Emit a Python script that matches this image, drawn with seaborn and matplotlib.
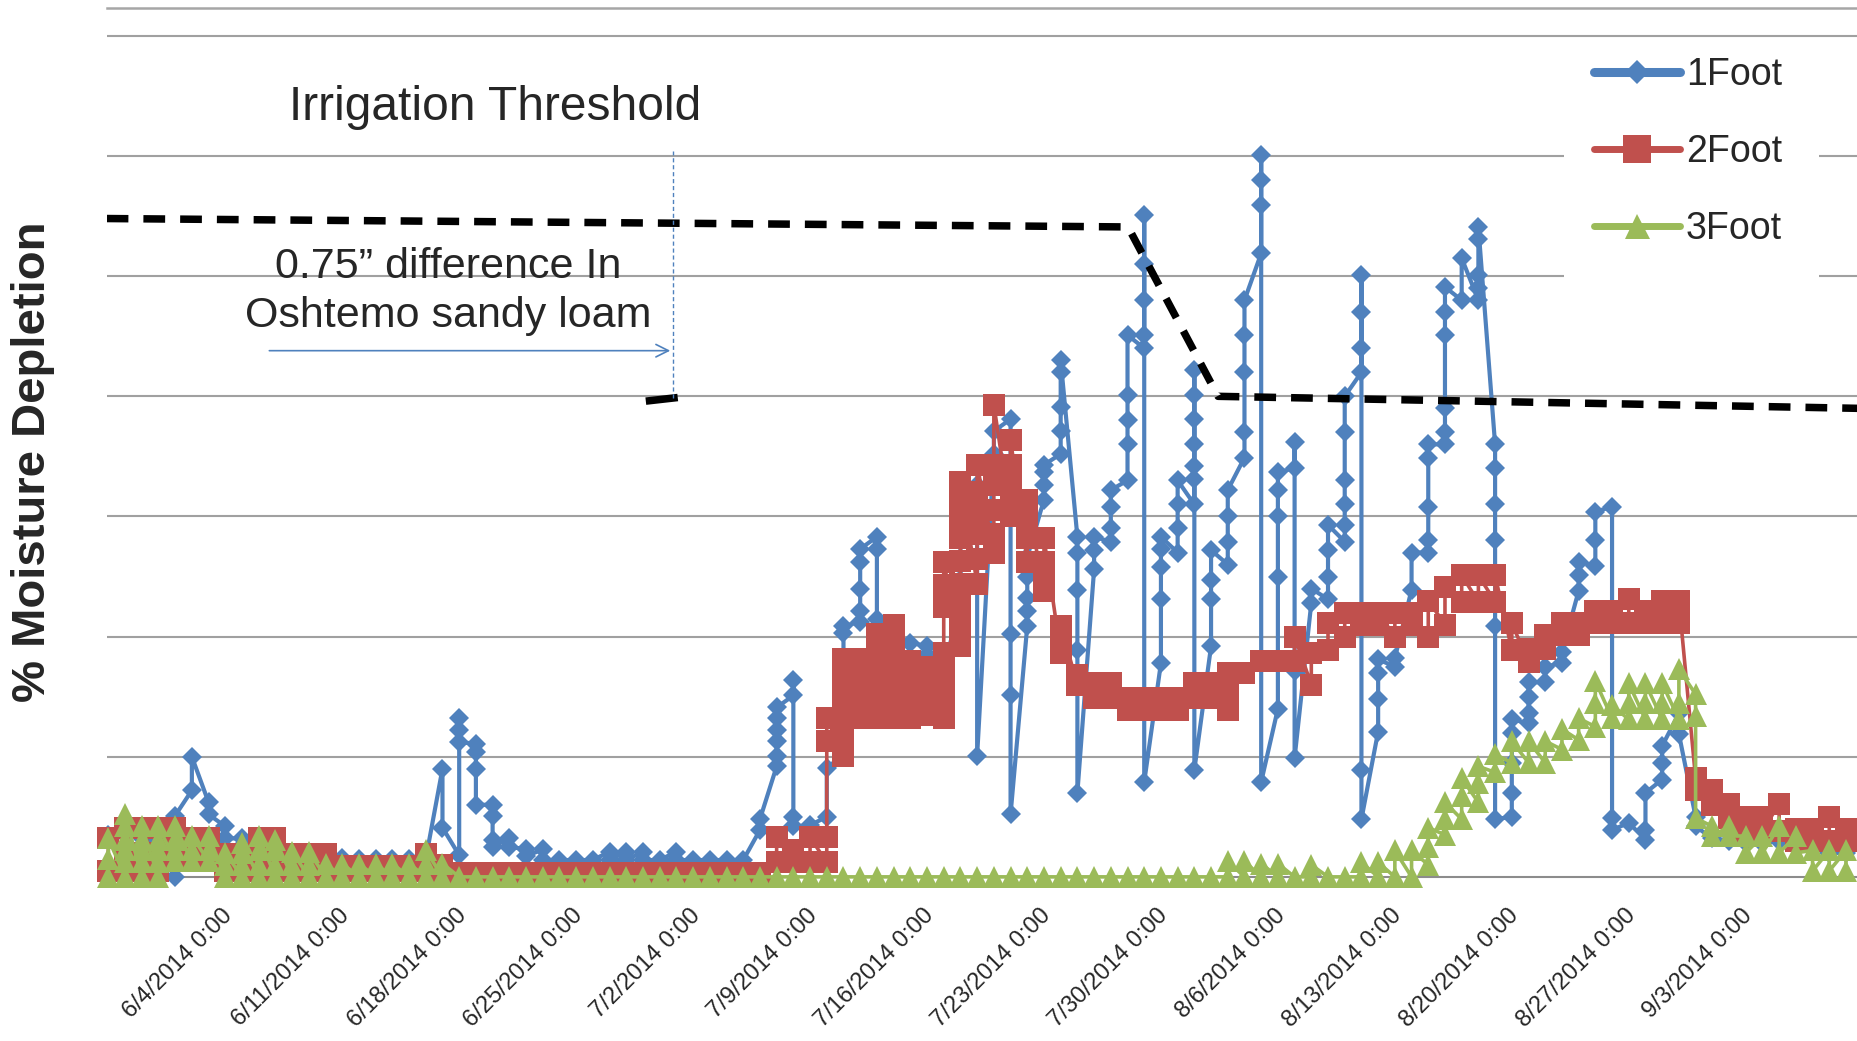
import pandas as pd
import matplotlib
matplotlib.use("Agg")
import matplotlib.pyplot as plt
from matplotlib.lines import Line2D
from matplotlib.patches import Rectangle
from matplotlib.transforms import ScaledTranslation
import seaborn as sns

# ---------------- data ----------------
start_date = "2014-05-28"          # first daily category (5/28/2014)
tick_dates = ["2014-06-04", "2014-06-11", "2014-06-18", "2014-06-25", "2014-07-02",
              "2014-07-09", "2014-07-16", "2014-07-23", "2014-07-30", "2014-08-06",
              "2014-08-13", "2014-08-20", "2014-08-27", "2014-09-03"]
tick_labels = ["6/4/2014 0:00", "6/11/2014 0:00", "6/18/2014 0:00", "6/25/2014 0:00",
               "7/2/2014 0:00", "7/9/2014 0:00", "7/16/2014 0:00", "7/23/2014 0:00",
               "7/30/2014 0:00", "8/6/2014 0:00", "8/13/2014 0:00", "8/20/2014 0:00",
               "8/27/2014 0:00", "9/3/2014 0:00"]
series_names = ["1Foot", "2Foot", "3Foot"]

# readings per day (Excel date axis puts all readings of one day in one column)
foot1 = [
    [3.5], [3.5], [3.2], [3.0], [0.0, 5.1], [7.2, 10.0], [6.2, 5.2], [4.2, 3.2],
    [3.2, 2.6], [2.5], [2.2], [2.0], [2.0], [1.8], [1.6], [1.5], [1.5], [1.5], [1.5], [1.5],
    [9.0, 4.1], [1.8, 13.2, 12.2, 11.2], [11.1, 10.4, 9.0, 6.0], [6.0, 5.1, 3.1, 2.5],
    [3.2, 2.5], [2.3, 1.7], [2.3, 1.4], [1.4], [1.4], [1.4], [2.1, 1.4], [2.1, 1.4],
    [2.1, 1.4], [1.4], [2.1, 1.4], [1.4], [1.4], [1.4], [1.4], [3.9, 4.8],
    [9.2, 10.1, 11.3, 12.2, 13.2, 14.1], [15.1, 16.4, 5.0, 4.2], [4.3], [5.0, 9.1],
    [10.1, 14.2, 16.1, 20.3, 20.9], [21.2, 22.1, 24.0, 26.2, 27.3], [28.3, 27.3, 21.5],
    [20.0, 19.4], [19.5], [19.2, 18.5], [18.5, 17.4], [22.7, 24.7, 28.1, 31.0],
    [31.1, 32.6, 10.1], [35.2, 37.1], [38.1, 20.2, 15.1, 5.2], [20.9, 22.1, 23.2, 25.0, 26.6],
    [31.4, 32.6, 33.7, 34.3], [35.2, 37.1, 39.1, 42.0, 43.0], [28.3, 27.0, 23.9, 18.9, 7.0],
    [25.6, 27.2, 28.3], [27.9, 29.0, 30.8, 32.2], [33.0, 36.0, 38.0, 40.1, 45.1],
    [44.0, 45.1, 48.0, 51.0, 55.1, 7.9], [17.8, 23.1, 25.8, 27.3, 28.3], [27.0, 29.0, 31.0, 33.0],
    [31.0, 33.1, 34.2, 36.0, 38.1, 40.1, 42.2, 8.9], [19.2, 23.1, 24.7, 27.2],
    [26.0, 27.9, 30.0, 32.2], [34.9, 37.0, 42.0, 45.1, 48.0], [51.9, 55.9, 58.0, 60.1, 7.9],
    [14.0, 25.0, 30.0, 32.2, 33.7], [34.0, 36.2, 17.1, 9.9], [22.8, 24.0],
    [23.1, 25.0, 27.2, 29.3], [27.9, 29.3, 31.0, 33.0, 37.0, 40.0],
    [42.0, 44.0, 47.0, 50.1, 8.9, 4.8], [12.1, 14.8, 17.0, 18.1], [17.5, 18.2], [23.9, 27.0],
    [27.0, 28.0, 30.8, 34.9, 36.0], [36.0, 37.0, 39.0, 45.1, 47.0, 49.1], [48.0, 51.5],
    [48.0, 49.0, 50.1, 53.1, 54.1], [36.0, 34.0, 31.0, 28.0, 20.9, 4.8],
    [5.0, 7.0, 9.5, 12.0, 13.1], [12.8, 13.6, 15.0, 16.2], [16.2, 17.5], [17.8, 18.7],
    [23.8, 25.1, 26.2], [25.9, 28.0, 30.4], [30.8, 4.9, 3.9], [4.5], [3.1, 3.9, 7.0],
    [8.1, 9.5, 10.9], [13.6, 11.9], [5.0, 4.2], [3.2], [3.0], [2.8], [2.8], [3.0], [2.6],
    [2.4], [2.0], [2.0],
]
foot2 = [
    [0.5, 3.2], [0.5, 2.0, 4.1], [0.5, 2.0, 4.1], [0.5, 2.0, 4.1], [1.5, 2.5, 4.1],
    [1.5, 3.2], [1.5, 3.2], [0.5, 1.9], [0.5, 1.9], [0.5, 2.0, 3.2], [0.5, 2.0, 3.2],
    [0.5, 1.9], [0.5, 1.9], [0.5, 1.9], [0.5, 0.9], [0.5, 0.9], [0.5, 0.9], [0.5, 0.9],
    [0.5, 0.9], [0.5, 1.9], [0.3, 1.0],
    [0.3], [0.3], [0.3], [0.3], [0.3], [0.3], [0.3], [0.3], [0.3], [0.3],
    [0.3], [0.3], [0.3], [0.3], [0.3], [0.3], [0.3], [0.3], [0.3],
    [1.2, 3.3], [1.2, 2.2], [1.2, 3.3], [1.2, 3.3, 11.3, 13.2],
    [10.1, 11.3, 13.0, 14.5, 16.0, 17.3, 18.1],
    [13.2, 14.6, 16.0, 17.3, 18.1], [13.2, 14.6, 16.0, 17.4, 18.8, 20.2],
    [13.2, 14.6, 16.0, 17.4, 18.8, 20.2, 21.0], [13.2, 14.6, 16.0, 17.4, 18.0],
    [13.5, 14.8, 16.2, 17.5], [13.2, 14.6, 16.0, 17.4, 18.6, 22.5, 24.3, 26.2],
    [19.2, 21.0, 22.7, 24.4, 26.3, 28.2, 30.0, 31.7, 32.9],
    [24.4, 26.5, 28.5, 30.2, 32.0, 34.3], [27.0, 28.5, 30.5, 32.6, 34.3, 39.3],
    [30.0, 31.1, 32.7, 34.3, 36.4], [26.2, 28.2, 30.0, 31.4], [23.8, 25.0, 26.2, 28.2],
    [18.6, 19.8, 20.9], [16.0, 16.8], [14.9, 16.1],
    [14.9, 16.1], [13.9, 14.9], [13.9, 14.9], [13.9, 14.9], [13.9, 14.9], [14.9, 16.1],
    [14.9, 16.1], [13.9, 15.5, 17.0], [17.0], [18.0], [18.0], [18.0, 20.0], [16.0, 18.6],
    [18.9, 21.1], [20.0, 22.0], [21.0, 22.0], [21.0, 22.0], [20.0, 22.0], [21.0, 22.0],
    [20.0, 23.0], [21.0, 24.1], [22.9, 25.1], [22.9, 25.1], [22.9, 25.1], [18.9, 21.1],
    [17.9, 19.0], [19.0, 20.1], [20.1, 21.1], [20.1, 21.1], [21.1, 22.1], [21.1, 22.1],
    [21.1, 23.1], [21.1, 22.1], [21.1, 23.0], [21.1, 23.0], [8.2, 7.2], [7.2, 6.0],
    [6.1, 4.9], [5.0, 3.8], [5.0, 3.8], [6.1, 3.8], [4.0, 3.0], [4.0, 3.0], [5.0, 3.0],
    [4.0, 3.0],
]
foot3 = [
    [0.0, 1.5, 3.2], [0.0, 1.2, 2.2, 3.1, 4.2, 5.2], [0.0, 1.2, 2.2, 3.1, 4.2],
    [0.0, 1.2, 2.2, 3.1, 4.2], [1.3, 2.2, 3.1, 4.2], [1.3, 2.2, 3.4], [1.3, 2.2, 3.4],
    [0.0, 1.0, 2.0], [0.0, 1.0, 2.0, 2.8], [0.0, 1.0, 2.2, 3.4], [0.0, 1.0, 2.2, 3.1],
    [0.0, 1.0, 2.1], [0.0, 1.0, 2.1], [0.0, 1.1], [0.0, 1.1], [0.0, 1.1], [0.0, 1.1],
    [0.0, 1.1], [0.0, 1.1], [0.0, 1.1, 2.2], [0.0, 1.1],
    [0.0], [0.0], [0.0], [0.0], [0.0], [0.0], [0.0], [0.0], [0.0], [0.0],
    [0.0], [0.0], [0.0], [0.0], [0.0], [0.0], [0.0], [0.0], [0.0], [0.0],
    [0.0], [0.0], [0.0], [0.0], [0.0], [0.0], [0.0], [0.0], [0.0], [0.0],
    [0.0], [0.0], [0.0], [0.0], [0.0], [0.0], [0.0], [0.0], [0.0], [0.0],
    [0.0], [0.0], [0.0], [0.0], [0.0], [0.0],
    [0.0, 1.3], [0.0, 1.3], [0.0, 1.1], [0.0, 1.1], [0.0], [0.0, 1.0], [0.0], [0.0],
    [0.0, 1.2], [0.0, 1.2], [0.0, 2.2], [0.0, 2.2], [1.0, 2.5, 4.1], [3.5, 4.8, 6.2],
    [4.8, 6.7, 8.2], [6.2, 7.8, 9.2], [8.7, 10.2], [9.5, 11.3], [9.5, 11.3], [9.5, 11.3],
    [10.6, 12.3], [11.4, 13.2], [12.5, 14.5, 16.3], [13.2, 14.3], [13.1, 14.5, 16.1],
    [13.1, 14.5, 16.1], [13.1, 14.5, 16.1], [13.1, 14.5, 17.3], [15.2, 13.4, 4.9],
    [4.2, 3.4], [4.2, 3.4], [3.4, 2.0], [3.4, 2.0], [4.2, 2.0], [3.4, 2.0], [2.2, 0.5],
    [2.2, 0.5], [2.2, 0.5],
]

# irrigation threshold (days after 5/28 0:00, % depletion)
threshold_days = [0.40, 61.53, 66.92, 105.22]
threshold_vals = [54.8, 54.1, 40.0, 39.0]
shifted_days = [32.67, 34.58]
shifted_vals = [39.6, 39.9]
bracket_day = 34.3
bracket_vals = [39.9, 60.4]
arrow_days = [9.97, 34.3]
arrow_val = 43.8

colors = ["#4F81BD", "#C0504D", "#9BBB59"]

# ---------------- build ----------------
base = pd.Timestamp(start_date)


def day(d):
    return base + pd.Timedelta(hours=24 * d)


def to_frame(per_day):
    xs, ys = [], []
    for k, vals in enumerate(per_day):
        for v in vals:
            xs.append(day(k + 0.5))
            ys.append(v)
    return pd.DataFrame({"date": xs, "val": ys})


sns.set_style("white")
plt.rcParams["font.family"] = ["Liberation Sans", "DejaVu Sans"]

W, H = 1858, 1041
SC = 1858 / 1568
fig = plt.figure(figsize=(W / 100, H / 100), dpi=100)


def fx(p):
    return p * SC / W


def fy(p):
    return 1 - p * SC / H


ax = fig.add_axes([fx(90), fy(740), 1 - fx(90), fy(7) - fy(740)])

styles = [
    dict(marker="D", markersize=10.5, linewidth=3.0, zorder=3),
    dict(marker="s", markersize=15.5, linewidth=2.6, zorder=4),
    dict(marker="^", markersize=16, linewidth=2.6, zorder=5),
]
for data, c, st in zip([foot1, foot2, foot3], colors, styles):
    df = to_frame(data)
    sns.lineplot(data=df, x="date", y="val", estimator=None, sort=False, ax=ax,
                 color=c, markeredgewidth=0, clip_on=False, legend=False, **st)

ax.plot([day(d) for d in threshold_days], threshold_vals, color="black", lw=5.4,
        dashes=(2.9, 2.0), zorder=6, solid_capstyle="butt", dash_capstyle="butt")
ax.plot([day(d) for d in shifted_days], shifted_vals, color="black", lw=5.4,
        solid_capstyle="butt", zorder=6)
ax.plot([day(bracket_day), day(bracket_day)], bracket_vals, color=colors[0], lw=1.0,
        ls=(0, (3, 2)), zorder=6)
ax.annotate("", xy=(day(arrow_days[1]), arrow_val), xytext=(day(arrow_days[0]), arrow_val),
            arrowprops=dict(arrowstyle="->,head_length=0.9,head_width=0.45",
                            color=colors[0], lw=1.2), zorder=6)

ax.set_xlim(day(0.40), day(105.22))
ax.set_ylim(0, 72.3)
ax.set_yticks([10, 20, 30, 40, 50, 60, 70])
ax.yaxis.grid(True, color="#a0a0a0", lw=1.5)
ax.xaxis.grid(False)
ax.set_axisbelow(True)
ax.tick_params(axis="y", left=False, labelleft=False)
for s in ["left", "right"]:
    ax.spines[s].set_visible(False)
ax.spines["top"].set_color("#a6a6a6")
ax.spines["top"].set_linewidth(1.8)
ax.spines["bottom"].set_color("#8c8c8c")
ax.spines["bottom"].set_linewidth(1.5)
ax.set_xlabel("")
ax.set_ylabel("")

ax.set_xticks(pd.to_datetime(tick_dates))
ax.set_xticklabels(tick_labels, rotation=45, ha="right", va="center",
                   rotation_mode="anchor", fontsize=17)
ax.tick_params(axis="x", direction="out", length=7, width=1.5, color="#8c8c8c", pad=0)
off = ScaledTranslation(0.12, -0.26, fig.dpi_scale_trans)
for lbl in ax.get_xticklabels():
    lbl.set_transform(lbl.get_transform() + off)

fig.text(fx(418), fy(91), "Irrigation Threshold", ha="center", va="center", fontsize=34.5)
fig.text(fx(378), fy(246), "0.75\u201d difference In\nOshtemo sandy loam", ha="center",
         va="center", fontsize=31, linespacing=1.26)
fig.text(fx(28), fy(390), "% Moisture Depletion", rotation=90, ha="center", va="center",
         fontsize=34, fontweight="bold")

# legend box
fig.add_artist(Rectangle((fx(1320), fy(236)), fx(1535) - fx(1320), fy(35) - fy(236),
                         transform=fig.transFigure, facecolor="white", edgecolor="none",
                         zorder=4))
handles = [
    Line2D([], [], color=colors[0], lw=6.5, marker="D", ms=12, mew=0),
    Line2D([], [], color=colors[1], lw=5, marker="s", ms=19.5, mew=0),
    Line2D([], [], color=colors[2], lw=5, marker="^", ms=18, mew=0),
]
fig.legend(handles, series_names, loc="upper left", bbox_to_anchor=(fx(1345), fy(48)),
           frameon=False, fontsize=27, handlelength=2.3, handletextpad=0.15,
           labelspacing=1.1, borderpad=0, borderaxespad=0)

fig.savefig("out.png", dpi=100)
